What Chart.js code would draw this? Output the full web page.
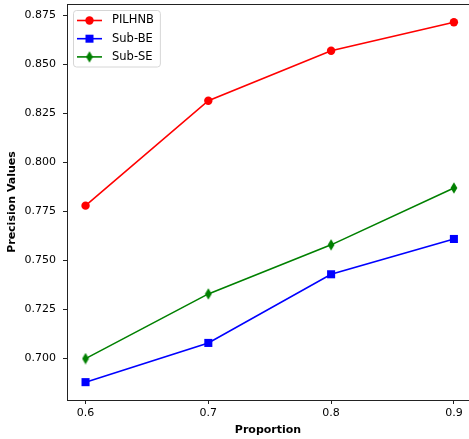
<!DOCTYPE html>
<html><head><meta charset="utf-8">
<script src="https://cdn.jsdelivr.net/npm/chart.js@4"></script>
<style>html,body{margin:0;padding:0;background:#fff}</style>
</head><body>
<canvas id="c" width="469" height="439"></canvas>
<script>
const proportions = [0.6, 0.7, 0.8, 0.9];
const pilhnb = [0.778, 0.8315, 0.857, 0.8715];
const subBE = [0.688, 0.708, 0.743, 0.761];
const subSE = [0.700, 0.733, 0.758, 0.787];
const xTicks = [0.6, 0.7, 0.8, 0.9];
const yTicks = [0.700, 0.725, 0.750, 0.775, 0.800, 0.825, 0.850, 0.875];
const seriesNames = ['PILHNB', 'Sub-BE', 'Sub-SE'];
const seriesColors = ['#ff0000', '#0000ff', '#008000'];

function thinDiamond(color) {
  const c = document.createElement('canvas');
  c.width = 8; c.height = 12;
  const g = c.getContext('2d');
  g.fillStyle = color;
  g.beginPath();
  g.moveTo(4, 0.3); g.lineTo(7.4, 6); g.lineTo(4, 11.7); g.lineTo(0.6, 6);
  g.closePath(); g.fill();
  return c;
}
const diamondImg = thinDiamond('#008000');

function pts(vals) { return proportions.map((x, i) => ({x: x, y: vals[i]})); }

const FONT = '"DejaVu Sans", sans-serif';

const frame = {
  id: 'frame',
  afterDraw(chart) {
    const {ctx, chartArea: a} = chart;
    ctx.save();
    ctx.strokeStyle = '#222';
    ctx.lineWidth = 1;
    ctx.beginPath();
    ctx.moveTo(a.left, a.top + 0.5);
    ctx.lineTo(a.right, a.top + 0.5);
    ctx.stroke();
    ctx.restore();
  }
};

const customLegend = {
  id: 'customLegend',
  afterDraw(chart) {
    const ctx = chart.ctx;
    const ds = chart.data.datasets;
    ctx.save();
    ctx.font = '11.5px ' + FONT;
    const maxW = Math.max(...ds.map(d => ctx.measureText(d.label).width));
    const x0 = 73.5, y0 = 10.5, h = 56.5;
    const w = (112 - 73) + maxW + 6;
    const r = 3;
    ctx.beginPath();
    ctx.moveTo(x0 + r, y0);
    ctx.lineTo(x0 + w - r, y0); ctx.arcTo(x0 + w, y0, x0 + w, y0 + r, r);
    ctx.lineTo(x0 + w, y0 + h - r); ctx.arcTo(x0 + w, y0 + h, x0 + w - r, y0 + h, r);
    ctx.lineTo(x0 + r, y0 + h); ctx.arcTo(x0, y0 + h, x0, y0 + h - r, r);
    ctx.lineTo(x0, y0 + r); ctx.arcTo(x0, y0, x0 + r, y0, r);
    ctx.closePath();
    ctx.fillStyle = 'rgba(255,255,255,0.8)';
    ctx.fill();
    ctx.strokeStyle = '#d6d6d6';
    ctx.lineWidth = 1;
    ctx.stroke();
    ds.forEach((d, i) => {
      const y = 20.5 + i * 18.2;
      ctx.strokeStyle = d.borderColor;
      ctx.lineWidth = 1.6;
      ctx.beginPath(); ctx.moveTo(77, y); ctx.lineTo(102, y); ctx.stroke();
      ctx.fillStyle = d.borderColor;
      const mx = 89.5;
      if (i === 0) { ctx.beginPath(); ctx.arc(mx, y, 4.2, 0, Math.PI * 2); ctx.fill(); }
      else if (i === 1) { ctx.fillRect(mx - 4, y - 4, 8, 8); }
      else { ctx.drawImage(diamondImg, mx - 4, y - 6); }
      ctx.fillStyle = '#000';
      ctx.textBaseline = 'middle';
      ctx.textAlign = 'left';
      ctx.fillText(d.label, 112, y);
    });
    ctx.restore();
  }
};

new Chart(document.getElementById('c'), {
  type: 'line',
  data: {
    datasets: [
      {label: seriesNames[0], data: pts(pilhnb), borderColor: seriesColors[0], backgroundColor: seriesColors[0],
       pointStyle: 'circle', pointRadius: 4.2, pointBorderWidth: 0, borderWidth: 1.6, tension: 0, fill: false},
      {label: seriesNames[1], data: pts(subBE), borderColor: seriesColors[1], backgroundColor: seriesColors[1],
       pointStyle: 'rect', pointRadius: 5.7, pointBorderWidth: 0, borderWidth: 1.6, tension: 0, fill: false},
      {label: seriesNames[2], data: pts(subSE), borderColor: seriesColors[2], backgroundColor: seriesColors[2],
       pointStyle: diamondImg, pointRadius: 5, pointBorderWidth: 0, borderWidth: 1.6, tension: 0, fill: false}
    ]
  },
  options: {
    responsive: false,
    animation: false,
    devicePixelRatio: 1,
    layout: {autoPadding: false, padding: {top: 4, left: 0, right: 0, bottom: 0}},
    plugins: {legend: {display: false}, tooltip: {enabled: false}},
    scales: {
      x: {
        type: 'linear', min: 0.5849, max: 0.9123,
        afterBuildTicks(s) { s.ticks = xTicks.map(v => ({value: v})); },
        afterFit(s) { s.height = 39; s.paddingLeft = 0; s.paddingRight = 0; s.paddingTop = 0; s.paddingBottom = 0; },
        grid: {drawOnChartArea: false, drawTicks: true, tickLength: 4, color: '#222', lineWidth: 1},
        border: {display: true, color: '#222', width: 1},
        ticks: {callback: v => v.toFixed(1), color: '#000', font: {family: FONT, size: 11}, padding: 3, maxRotation: 0, autoSkip: false},
        title: {display: true, text: 'Proportion', color: '#000', font: {family: FONT, size: 11, weight: 'bold'}, padding: {top: 0, bottom: 2.4}}
      },
      y: {
        type: 'linear', min: 0.6789, max: 0.8808,
        afterBuildTicks(s) { s.ticks = yTicks.map(v => ({value: v})); },
        afterFit(s) { s.width = 67; s.paddingLeft = 0; s.paddingRight = 0; s.paddingTop = 0; s.paddingBottom = 0; },
        grid: {drawOnChartArea: false, drawTicks: true, tickLength: 4, color: '#222', lineWidth: 1},
        border: {display: true, color: '#222', width: 1},
        ticks: {callback: v => v.toFixed(3), color: '#000', font: {family: FONT, size: 11}, padding: 7, autoSkip: false},
        title: {display: true, text: 'Precision Values', color: '#000', font: {family: FONT, size: 11, weight: 'bold'}, padding: {top: 5.4, bottom: 0}}
      }
    }
  },
  plugins: [frame, customLegend]
});
</script>
</body></html>
